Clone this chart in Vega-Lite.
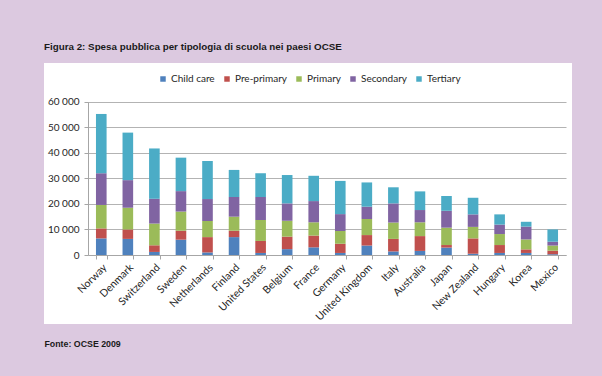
{
  "$schema": "https://vega.github.io/schema/vega-lite/v6.json",
  "autosize": {"type": "none"},
  "width": 528,
  "height": 261,
  "padding": {"left": 44, "top": 63, "right": 30, "bottom": 52},
  "background": "#dcc9e0",
  "title": {
    "text": "Figura 2: Spesa pubblica per tipologia di scuola nei paesi OCSE",
    "anchor": "start",
    "frame": "group",
    "orient": "top",
    "baseline": "bottom",
    "offset": 1,
    "font": "Liberation Sans",
    "fontSize": 9.8,
    "fontWeight": "bold",
    "color": "#1a1a1a"
  },
  "data": {
    "values": [
      {"country": "Norway", "Child care": 6500, "Pre-primary": 3900, "Primary": 9200, "Secondary": 12400, "Tertiary": 23200},
      {"country": "Denmark", "Child care": 6300, "Pre-primary": 3700, "Primary": 8500, "Secondary": 10800, "Tertiary": 18600},
      {"country": "Switzerland", "Child care": 1200, "Pre-primary": 2600, "Primary": 8500, "Secondary": 9700, "Tertiary": 19700},
      {"country": "Sweden", "Child care": 6000, "Pre-primary": 3500, "Primary": 7500, "Secondary": 8000, "Tertiary": 13100},
      {"country": "Netherlands", "Child care": 1000, "Pre-primary": 6000, "Primary": 6300, "Secondary": 8600, "Tertiary": 14900},
      {"country": "Finland", "Child care": 7000, "Pre-primary": 2500, "Primary": 5500, "Secondary": 7700, "Tertiary": 10600},
      {"country": "United States", "Child care": 800, "Pre-primary": 4700, "Primary": 8200, "Secondary": 9000, "Tertiary": 9300},
      {"country": "Belgium", "Child care": 2300, "Pre-primary": 4900, "Primary": 6200, "Secondary": 6800, "Tertiary": 11100},
      {"country": "France", "Child care": 3000, "Pre-primary": 4600, "Primary": 5200, "Secondary": 8300, "Tertiary": 9900},
      {"country": "Germany", "Child care": 800, "Pre-primary": 3600, "Primary": 5000, "Secondary": 6600, "Tertiary": 13000},
      {"country": "United Kingdom", "Child care": 3700, "Pre-primary": 4100, "Primary": 6300, "Secondary": 4800, "Tertiary": 9500},
      {"country": "Italy", "Child care": 1400, "Pre-primary": 4900, "Primary": 6400, "Secondary": 7500, "Tertiary": 6300},
      {"country": "Australia", "Child care": 1600, "Pre-primary": 5800, "Primary": 5400, "Secondary": 4800, "Tertiary": 7300},
      {"country": "Japan", "Child care": 2900, "Pre-primary": 1000, "Primary": 6800, "Secondary": 6600, "Tertiary": 5800},
      {"country": "New Zealand", "Child care": 500, "Pre-primary": 6000, "Primary": 4500, "Secondary": 4900, "Tertiary": 6500},
      {"country": "Hungary", "Child care": 800, "Pre-primary": 3100, "Primary": 4300, "Secondary": 3700, "Tertiary": 4000},
      {"country": "Korea", "Child care": 800, "Pre-primary": 1400, "Primary": 3900, "Secondary": 5000, "Tertiary": 1900},
      {"country": "Mexico", "Child care": 300, "Pre-primary": 1400, "Primary": 2000, "Secondary": 1500, "Tertiary": 4800}
    ]
  },
  "transform": [
    {"fold": ["Child care", "Pre-primary", "Primary", "Secondary", "Tertiary"], "as": ["level", "spesa"]}
  ],
  "mark": {"type": "bar"},
  "encoding": {
    "x": {
      "field": "country",
      "type": "nominal",
      "sort": ["Norway", "Denmark", "Switzerland", "Sweden", "Netherlands", "Finland", "United States", "Belgium", "France", "Germany", "United Kingdom", "Italy", "Australia", "Japan", "New Zealand", "Hungary", "Korea", "Mexico"],
      "scale": {"range": [44, 522], "paddingInner": 0.6, "paddingOuter": 0.3},
      "axis": {
        "orient": "bottom",
        "offset": -69,
        "title": "Fonte: OCSE 2009",
        "titleX": 0,
        "titleY": 88,
        "titleAlign": "left",
        "titleAnchor": "start",
        "titleBaseline": "middle",
        "titleFont": "Liberation Sans",
        "titleFontSize": 8.8,
        "titleFontWeight": "bold",
        "titleColor": "#1a1a1a",
        "labelAngle": -45,
        "labelAlign": "right",
        "labelBaseline": "top",
        "labelPadding": 3,
        "labelFont": "Lato",
        "labelFontSize": 10.5,
        "labelColor": "#262626",
        "tickBand": "extent",
        "tickSize": 4,
        "tickColor": "#a6a6a6",
        "domainColor": "#a6a6a6",
        "grid": false
      }
    },
    "y": {
      "field": "spesa",
      "type": "quantitative",
      "stack": "zero",
      "scale": {"domain": [0, 60000], "range": [192, 38.7], "nice": false},
      "axis": {
        "orient": "left",
        "offset": -44,
        "title": null,
        "values": [0, 10000, 20000, 30000, 40000, 50000, 60000],
        "labelExpr": "replace(format(datum.value, ','), ',', ' ')",
        "labelFont": "Lato",
        "labelFontSize": 10,
        "labelColor": "#262626",
        "labelPadding": 5,
        "tickSize": 4,
        "tickColor": "#a6a6a6",
        "domainColor": "#a6a6a6",
        "grid": true,
        "gridColor": "#b3b3b3",
        "gridWidth": 1
      }
    },
    "color": {
      "field": "level",
      "type": "nominal",
      "scale": {
        "domain": ["Child care", "Pre-primary", "Primary", "Secondary", "Tertiary"],
        "range": ["#4f81bd", "#c0504d", "#9bbb59", "#8064a2", "#4bacc6"]
      },
      "legend": {
        "title": null,
        "orient": "none",
        "direction": "horizontal",
        "legendX": 114,
        "legendY": 11,
        "symbolType": "square",
        "symbolSize": 30,
        "symbolStrokeWidth": 0,
        "labelOffset": 3,
        "labelFont": "Lato",
        "labelFontSize": 10,
        "labelColor": "#262626",
        "columnPadding": 7
      }
    },
    "order": {"field": "level", "sort": "ascending"}
  },
  "config": {
    "view": {"fill": "white", "stroke": null}
  }
}
